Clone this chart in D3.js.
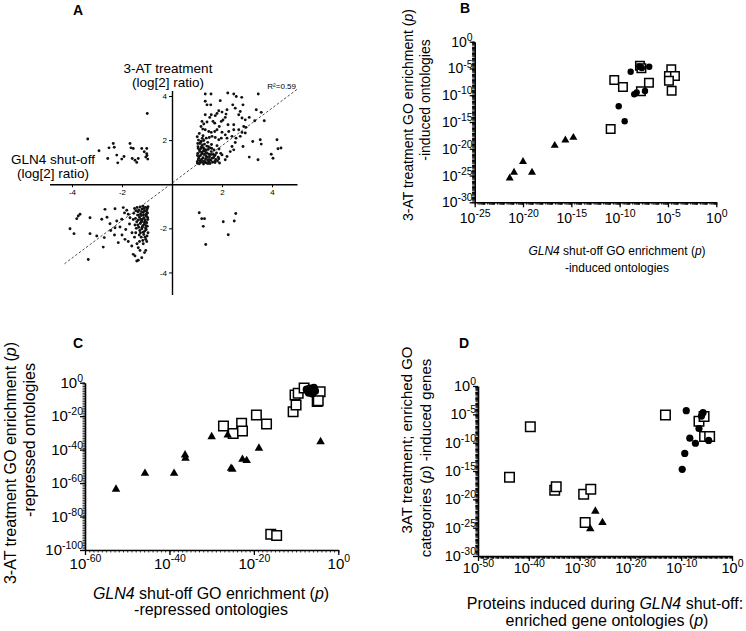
<!DOCTYPE html>
<html><head><meta charset="utf-8">
<script src="https://cdn.jsdelivr.net/npm/d3@7"></script>
<style>body{margin:0;background:#fff} svg{display:block} text{font-family:Arial,"Liberation Sans",sans-serif;fill:#000}</style>
</head><body><svg id="fig" width="746" height="631"></svg>
<script>
// ---------------- DATA ----------------
// Panel A: log2 ratios (x = GLN4 shut-off, y = 3-AT treatment)
const aQ1 = [[1.33,4.09],[1.56,4.09],[2.23,4.14],[2.47,4.09],[2.57,3.98],[3.45,4.09],[1.33,3.76],[1.4,3.6],[1.55,3.6],[1.93,3.79],[2.43,3.6],[2.79,3.94],[2.84,3.6],
[2.2,3.38],[2.53,3.45],[2.73,3.3],[1.87,3.33],[2.0,3.27],[2.16,3.18],[2.67,3.15],[3.37,3.38],[3.57,3.26],[2.8,3.0],[2.93,2.92],[3.09,3.03],[3.31,2.88],[3.69,2.88],[1.33,3.15],[1.51,3.03],[1.57,3.15],[1.73,3.11],[1.8,3.21],[1.97,2.85],[2.04,2.91],[2.13,3.03],[1.2,2.85],[1.27,2.73],[1.4,2.82],[1.64,2.85],[1.71,2.77],[2.24,2.7],[2.47,2.7],[2.47,2.47],[2.67,2.47],[2.8,2.35],[2.87,2.62],[2.96,2.58],[1.16,2.62],[1.23,2.5],[1.33,2.47],[1.47,2.39],[1.57,2.35],[1.71,2.39],[1.8,2.47],[1.89,2.62],[2.0,2.36],[2.13,2.24],[2.27,2.39],[1.24,2.2],[1.37,2.09],[1.49,2.12],[1.6,2.17],[1.73,2.12],[1.87,2.02],[1.97,2.09],[2.2,2.09],[2.4,2.17],[2.56,2.09],[2.73,2.17],[2.93,2.32],[3.23,1.94],[3.53,2.02],[3.57,1.82],[4.2,2.02],[4.24,1.61],[4.36,1.64],[3.97,1.36],[4.04,1.18],[3.09,1.23],[3.44,1.11],[2.84,1.71],[2.53,1.89],[2.4,1.71],[2.33,1.48],[2.47,1.56],[2.2,1.26],[2.13,1.11],[2.0,1.33],[1.87,1.15],[1.71,1.03],[1.73,1.33],
[1.02,0.95],[1.05,1.1],[1.08,1.25],[1.03,1.4],[1.1,1.55],[1.04,1.7],[1.12,1.85],[1.06,2.0],[1.01,2.15],[1.09,2.3],[1.15,0.98],[1.18,1.12],[1.14,1.3],[1.2,1.45],[1.16,1.62],[1.22,1.78],[1.17,1.95],[1.21,2.08],[1.13,1.05],[1.19,1.38],
[1.26,0.92],[1.3,1.05],[1.24,1.2],[1.28,1.35],[1.32,1.5],[1.25,1.66],[1.3,1.82],[1.27,1.98],[1.34,1.15],[1.29,1.6],[1.38,0.96],[1.42,1.1],[1.36,1.28],[1.4,1.42],[1.45,1.58],[1.39,1.73],[1.43,1.9],[1.47,1.02],[1.41,1.22],[1.48,1.36],
[1.52,0.94],[1.55,1.08],[1.5,1.25],[1.57,1.48],[1.53,1.65],[1.58,1.8],[1.62,1.0],[1.6,1.18],[1.65,1.35],[1.68,1.55],[1.72,0.98],[1.75,1.12],[1.7,1.28],[1.78,1.42],[1.82,1.05],[1.85,1.22],[1.9,0.96],[1.95,1.4],[1.88,1.6],[1.8,1.75],
[1.07,1.18],[1.11,1.48],[1.05,1.62],[1.23,1.02],[1.35,1.4],[1.46,1.7],[1.33,0.99],[1.56,1.35],[1.02,1.3],[1.14,1.9],[1.01,1.02],[1.09,0.93],[1.26,1.52],[1.37,1.55],[1.49,1.12],[1.59,1.62],[1.18,1.7],[1.03,1.85],[1.44,0.94],[1.66,1.2]];
const aQ2 = [[-0.99,3.21],[-3.37,2.05],[-2.92,1.52],[-2.52,1.65],[-2.35,1.85],[-2.31,1.68],[-2.21,1.32],[-2.57,1.17],[-2.17,0.97],[-2.01,1.14],[-1.92,1.26],[-1.68,1.85],[-1.64,1.65],[-1.55,1.62],[-1.59,1.17],[-1.48,1.09],[-1.41,0.99],[-1.35,1.17],[-1.21,1.62],[-1.11,1.47],[-1.01,1.62],[-1.01,1.38],[-1.05,1.23],[-0.97,1.14],[-1.0,1.3]];
const aQ3 = [[-4.08,-2.02],[-3.92,-2.24],[-3.81,-1.56],[-3.75,-1.44],[-3.68,-1.36],[-3.28,-1.52],[-3.28,-2.24],[-3.35,-3.41],[-3.01,-2.35],[-2.81,-1.59],[-2.71,-2.42],[-2.68,-1.14],[-2.75,-2.85],[-2.48,-1.79],[-2.28,-1.11],[-2.28,-1.97],[-2.15,-2.65],[-2.21,-1.67],[-2.08,-1.94],[-2.01,-1.59],[-1.95,-1.06],[-1.88,-2.5],[-1.81,-1.18],[-1.75,-1.36],[-1.85,-2.05],[-1.68,-1.52],[-1.61,-2.8],[-1.55,-3.18],[-1.48,-3.25],[-1.41,-3.48],[-1.35,-3.45],[-1.35,-2.88],[-1.28,-3.0],[-1.21,-3.33],
[-2.6,-1.5],[-2.45,-2.1],[-1.9,-1.3],[-1.7,-1.8],[-1.6,-2.2],[-2.0,-2.3],[-2.3,-2.3],[-1.75,-2.6],[-1.5,-2.4],[-1.4,-2.7],[-1.3,-2.6],[-1.15,-2.7],[-1.1,-3.1],[-1.05,-3.0],
[-0.96,-1.02],[-1.0,-1.15],[-0.98,-1.3],[-1.02,-1.45],[-0.97,-1.6],[-1.01,-1.75],[-0.99,-1.9],[-1.03,-2.05],[-0.96,-2.2],[-1.0,-2.35],[-1.06,-1.05],[-1.1,-1.2],[-1.05,-1.38],[-1.12,-1.52],[-1.07,-1.68],[-1.11,-1.82],[-1.06,-1.98],[-1.09,-2.12],[-1.13,-2.28],[-1.05,-2.5],
[-1.16,-1.0],[-1.2,-1.12],[-1.15,-1.28],[-1.22,-1.42],[-1.18,-1.58],[-1.24,-1.72],[-1.17,-1.88],[-1.21,-2.02],[-1.15,-2.18],[-1.23,-2.4],[-1.28,-1.03],[-1.32,-1.18],[-1.26,-1.35],[-1.3,-1.5],[-1.35,-1.62],[-1.27,-1.78],[-1.33,-1.95],[-1.29,-2.1],[-1.36,-1.25],[-1.31,-2.3],
[-1.4,-1.05],[-1.44,-1.2],[-1.38,-1.4],[-1.46,-1.55],[-1.41,-1.7],[-1.48,-1.85],[-1.43,-2.0],[-1.5,-1.1],[-1.53,-1.32],[-1.55,-1.6],[-0.98,-1.08],[-1.03,-1.22],[-1.08,-1.62],[-1.14,-1.4],[-1.19,-1.95],[-1.25,-1.6],[-1.34,-1.4],[-1.01,-2.6],[-1.08,-2.4],[-1.17,-2.55],
[-0.97,-1.52],[-1.04,-1.88],[-1.12,-1.1],[-1.22,-1.25],[-1.37,-1.85],[-1.45,-2.2],[-1.26,-2.2],[-1.02,-1.35],[-1.1,-1.75],[-1.2,-1.68]];
const aQ4 = [[1.09,-1.29],[1.19,-1.56],[1.3,-1.56],[1.25,-1.91],[1.35,-2.73],[2.05,-1.7],[2.25,-2.29],[2.49,-1.67],[2.55,-1.33]];
const aFit = {slope: 0.85, intercept: 0.05, xFrom: -4.3, xTo: 5.0};
const aR2 = "R\u00B2=0.59";
const aTicks = [-4, -2, 2, 4];

// Panels B-D: log10(p) values, [x, y]
const bTriangles = [[-21.38,-25.5],[-20.93,-24.4],[-20.0,-22.4],[-19.07,-24.4],[-16.72,-19.4],[-15.62,-18.4],[-14.79,-17.9]];
const bSquares = [[-10.56,-7.15],[-9.66,-8.46],[-6.97,-7.65],[-7.8,-9.27],[-10.93,-16.3],[-4.66,-5.16],[-4.9,-6.41],[-4.28,-6.4],[-4.9,-7.28],[-4.62,-9.15],[-7.9,-4.5],[-7.75,-4.95]];
const bCircles = [[-8.86,-5.6],[-6.94,-4.67],[-8.49,-9.83],[-8.24,-9.46],[-7.38,-9.2],[-10.1,-12.07],[-9.48,-14.87],[-7.95,-4.6],[-7.7,-4.9],[-7.85,-4.75]];
const bXTicks = [-25,-20,-15,-10,-5,0];
const bYTicks = [-30,-25,-20,-15,-10,-5,0];

const cTriangles = [[-52.66,-63.7],[-45.8,-54.2],[-38.9,-54.2],[-36.3,-43.2],[-36.2,-45.2],[-30.0,-32.3],[-26.2,-31.3],[-25.4,-51.2],[-25.1,-51.8],[-22.7,-45.8],[-21.7,-46.6],[-18.8,-39.2],[-4.2,-35.3]];
const cSquares = [[-27.2,-25.9],[-24.9,-30.3],[-22.9,-24.3],[-22.7,-28.9],[-19.4,-19.3],[-17.0,-24.7],[-16.0,-90.6],[-14.6,-91.4],[-10.7,-17.3],[-10.0,-13.3],[-10.25,-7.3],[-9.5,-6.3],[-8.1,-3.2],[-5.0,-11.3],[-4.3,-5.4],[-4.75,-10.8]];
const cCircles = [[-7.5,-4],[-6.8,-3.5],[-6.0,-4],[-5.5,-5],[-7.0,-6],[-6.2,-6.5],[-5.8,-3],[-6.5,-5],[-7.2,-4.8]];
const cXTicks = [-60,-40,-20,0];
const cYTicks = [-100,-80,-60,-40,-20,0];

const dSquares = [[-43.8,-16.1],[-39.7,-7.2],[-34.9,-18.4],[-34.6,-17.8],[-29.2,-19.1],[-27.8,-18.2],[-28.9,-24.1],[-13.1,-5.1],[-6.5,-6.2],[-5.5,-5.4],[-5.4,-8.9],[-4.4,-8.9]];
const dTriangles = [[-26.9,-22.1],[-25.5,-24.1],[-27.9,-25.2]];
const dCircles = [[-9.0,-4.35],[-8.3,-9.2],[-9.3,-11.9],[-9.8,-14.7],[-7.2,-10.1],[-6.5,-7.5],[-6.0,-5.3],[-5.7,-4.7],[-4.6,-9.6]];
const dXTicks = [-50,-40,-30,-20,-10,0];
const dYTicks = [-30,-25,-20,-15,-10,-5,0];

// ---------------- DRAW ----------------
const svg = d3.select("#fig");

function panelLabel(txt, x, y) {
  svg.append("text").attr("x", x).attr("y", y).attr("text-anchor", "middle")
    .attr("font-size", 14).attr("font-weight", "bold").text(txt);
}

// ---- Panel A ----
(function () {
  const xA = d3.scaleLinear().domain([-4.9, 5.0]).range([49.5, 297]);
  const yA = d3.scaleLinear().domain([-5.0, 4.25]).range([294.5, 90.5]);
  const g = svg.append("g");
  const xAx = g.append("g").attr("transform", `translate(0,${yA(0)})`)
    .call(d3.axisBottom(xA).tickValues(aTicks).tickSize(3).tickPadding(2).tickSizeOuter(0).tickFormat(d3.format("d")));
  const yAx = g.append("g").attr("transform", `translate(${xA(0)},0)`)
    .call(d3.axisLeft(yA).tickValues(aTicks).tickSize(3).tickPadding(2).tickSizeOuter(0).tickFormat(d3.format("d")));
  [xAx, yAx].forEach(ax => {
    ax.select(".domain").attr("stroke", "#000").attr("stroke-width", 1.4);
    ax.selectAll(".tick line").attr("stroke", "#000").attr("stroke-width", 1);
    ax.selectAll("text").attr("font-size", 8).attr("fill", "#222").attr("font-family", "Arial,'Liberation Sans',sans-serif")
      .text(d => (d < 0 ? "-" : "") + Math.abs(d));
  });
  g.append("line")
    .attr("x1", xA(aFit.xFrom)).attr("y1", yA(aFit.slope * aFit.xFrom + aFit.intercept))
    .attr("x2", xA(aFit.xTo)).attr("y2", yA(aFit.slope * aFit.xTo + aFit.intercept))
    .attr("stroke", "#222").attr("stroke-width", 0.8).attr("stroke-dasharray", "2.5,2");
  const pts = aQ1.concat(aQ2, aQ3, aQ4);
  g.selectAll("circle.pt").data(pts).enter().append("circle")
    .attr("cx", d => xA(d[0])).attr("cy", d => yA(d[1])).attr("r", 1.45).attr("fill", "#111");
  g.append("text").attr("x", 296).attr("y", 89).attr("text-anchor", "end").attr("font-size", 8).attr("fill", "#222").text(aR2);
  g.append("text").attr("x", 168).attr("y", 73).attr("text-anchor", "middle").attr("font-size", 13.5).text("3-AT treatment");
  g.append("text").attr("x", 168).attr("y", 87).attr("text-anchor", "middle").attr("font-size", 13.5).text("(log[2] ratio)");
  g.append("text").attr("x", 53).attr("y", 164).attr("text-anchor", "middle").attr("font-size", 13.5).text("GLN4 shut-off");
  g.append("text").attr("x", 53).attr("y", 178).attr("text-anchor", "middle").attr("font-size", 13.5).text("(log[2] ratio)");
  panelLabel("A", 78, 15);
})();

// ---- Log panels ----
function minorTicks(dom, mode) {
  const out = [];
  for (let e = dom[0]; e < dom[1]; e++) {
    out.push(e);
    if (mode === "sub") for (let k = 2; k <= 9; k++) out.push(e + Math.log10(k));
  }
  out.push(dom[1]);
  return out;
}
function supLabels(ax, base, sup, anchor) {
  ax.selectAll(".tick text").each(function (d) {
    const t = d3.select(this);
    t.text(null).attr("font-size", base).attr("text-anchor", anchor).attr("font-family", "Arial,'Liberation Sans',sans-serif").attr("fill", "#000");
    t.append("tspan").text("10");
    t.append("tspan").attr("font-size", sup).attr("dy", -base * 0.42).text(d === 0 ? "0" : "-" + Math.abs(d));
  });
}
function logPanel(c) {
  const g = svg.append("g");
  const x = d3.scaleLinear().domain(c.xDom).range(c.xr);
  const y = d3.scaleLinear().domain(c.yDom).range(c.yr);
  // minor ticks
  g.append("g").attr("transform", `translate(0,${c.yr[0]})`)
    .call(d3.axisBottom(x).tickValues(minorTicks(c.xDom, c.xMinor)).tickSize(2.5).tickFormat("").tickSizeOuter(0))
    .call(a => { a.select(".domain").remove(); a.selectAll("line").attr("stroke", "#000").attr("stroke-width", 0.8); });
  g.append("g").attr("transform", `translate(${c.xr[0]},0)`)
    .call(d3.axisLeft(y).tickValues(minorTicks(c.yDom, c.yMinor)).tickSize(2.5).tickFormat("").tickSizeOuter(0))
    .call(a => { a.select(".domain").remove(); a.selectAll("line").attr("stroke", "#000").attr("stroke-width", 0.8); });
  // major axes
  const xAx = g.append("g").attr("transform", `translate(0,${c.yr[0]})`)
    .call(d3.axisBottom(x).tickValues(c.xTicks).tickSize(5).tickPadding(c.xPad).tickSizeOuter(0));
  const yAx = g.append("g").attr("transform", `translate(${c.xr[0]},0)`)
    .call(d3.axisLeft(y).tickValues(c.yTicks).tickSize(5).tickPadding(-3).tickSizeOuter(0));
  [xAx, yAx].forEach(ax => {
    ax.select(".domain").attr("stroke", "#000").attr("stroke-width", 1.6);
    ax.selectAll(".tick line").attr("stroke", "#000").attr("stroke-width", 1.3);
  });
  supLabels(xAx, c.tf, c.sf, "middle");
  supLabels(yAx, c.tf, c.sf, "end");
  // markers
  const sq = d3.symbol().type(d3.symbolSquare).size(c.sq * c.sq);
  const tri = d3.symbol().type(d3.symbolTriangle).size(c.tri * c.tri * Math.sqrt(3) / 4);
  g.selectAll("path.sq").data(c.squares).enter().append("path").attr("class", "sq")
    .attr("d", sq).attr("transform", d => `translate(${x(d[0])},${y(d[1])})`)
    .attr("fill", "#fff").attr("stroke", "#000").attr("stroke-width", 1.5);
  g.selectAll("circle.ci").data(c.circles).enter().append("circle").attr("class", "ci")
    .attr("cx", d => x(d[0])).attr("cy", d => y(d[1])).attr("r", c.r).attr("fill", "#000");
  g.selectAll("path.tr").data(c.triangles).enter().append("path").attr("class", "tr")
    .attr("d", tri).attr("transform", d => `translate(${x(d[0])},${y(d[1])})`).attr("fill", "#000");
  // titles
  c.xTitle.forEach(t => {
    const el = g.append("text").attr("x", t.x).attr("y", t.y).attr("text-anchor", "middle").attr("font-size", c.xtf);
    t.parts.forEach(p => el.append("tspan").attr("font-style", p[1] ? "italic" : null).text(p[0]));
  });
  c.yTitle.forEach(t => {
    const el = g.append("text").attr("transform", `translate(${t.x},${t.y}) rotate(-90)`)
      .attr("text-anchor", "middle").attr("dominant-baseline", "central").attr("font-size", c.ytf);
    t.parts.forEach(p => el.append("tspan").attr("font-style", p[1] ? "italic" : null).text(p[0]));
  });
}

logPanel({
  xDom: [-25, 0], yDom: [-30, 0], xr: [474.7, 716.3], yr: [202.3, 41.7],
  xTicks: bXTicks, yTicks: bYTicks, xMinor: "sub", yMinor: "sub", xPad: 6,
  tf: 14, sf: 10.5, sq: 8.5, tri: 8, r: 3.2,
  squares: bSquares, circles: bCircles, triangles: bTriangles,
  xtf: 12, ytf: 14,
  xTitle: [{x: 617, y: 255, parts: [["GLN4", true], [" shut-off GO enrichment (", false], ["p", true], [")", false]]},
           {x: 617, y: 272, parts: [["-induced ontologies", false]]}],
  yTitle: [{x: 408, y: 115, parts: [["3-AT treatment GO enrichment (", false], ["p", true], [")", false]]},
           {x: 425, y: 100, parts: [["-induced ontologies", false]]}]
});
panelLabel("B", 465, 13);

logPanel({
  xDom: [-60, 0], yDom: [-100, 0], xr: [85, 338.3], yr: [550, 382.7],
  xTicks: cXTicks, yTicks: cYTicks, xMinor: "dec", yMinor: "dec", xPad: 3,
  tf: 15, sf: 10.5, sq: 9.5, tri: 8.5, r: 4,
  squares: cSquares, circles: cCircles, triangles: cTriangles,
  xtf: 16, ytf: 16,
  xTitle: [{x: 211, y: 599, parts: [["GLN4", true], [" shut-off GO enrichment (", false], ["p", true], [")", false]]},
           {x: 211, y: 615, parts: [["-repressed ontologies", false]]}],
  yTitle: [{x: 10, y: 463, parts: [["3-AT treatment GO enrichment (", false], ["p", true], [")", false]]},
           {x: 29, y: 440, parts: [["-repressed ontologies", false]]}]
});
panelLabel("C", 78, 348);

logPanel({
  xDom: [-50, 0], yDom: [-30, 0], xr: [478, 732], yr: [556, 386],
  xTicks: dXTicks, yTicks: dYTicks, xMinor: "sub", yMinor: "sub", xPad: 2,
  tf: 14.5, sf: 10.5, sq: 9.5, tri: 8.5, r: 3.6,
  squares: dSquares, circles: dCircles, triangles: dTriangles,
  xtf: 16, ytf: 15,
  xTitle: [{x: 605, y: 609, parts: [["Proteins induced during ", false], ["GLN4", true], [" shut-off:", false]]},
           {x: 607, y: 626, parts: [["enriched gene ontologies (", false], ["p", true], [")", false]]}],
  yTitle: [{x: 406, y: 440, parts: [["3AT treatment; enriched GO", false]]},
           {x: 425, y: 458, parts: [["categories (", false], ["p", true], [") -induced genes", false]]}]
});
panelLabel("D", 464, 348);
</script></body></html>
